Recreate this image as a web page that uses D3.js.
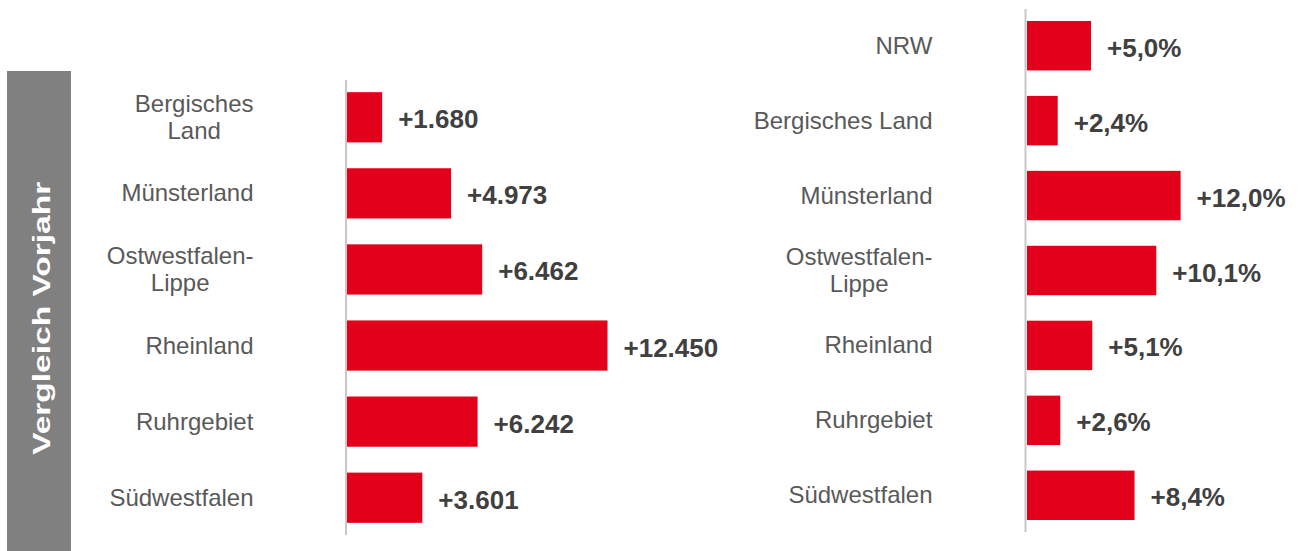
<!DOCTYPE html>
<html>
<head>
<meta charset="utf-8">
<script src="https://cdn.jsdelivr.net/npm/d3@7"></script>
<style>
  html, body { margin: 0; padding: 0; background: #ffffff; }
  svg { display: block; font-family: "Liberation Sans", Arial, sans-serif; }
</style>
</head>
<body>
<svg id="chart" width="1302" height="551"></svg>
<script>
// ---- data ----
const leftCategories = [["Bergisches", "Land"], ["Münsterland"], ["Ostwestfalen-", "Lippe"], ["Rheinland"], ["Ruhrgebiet"], ["Südwestfalen"]];
const leftValues = [1680, 4973, 6462, 12450, 6242, 3601];
const leftLabels = ["+1.680", "+4.973", "+6.462", "+12.450", "+6.242", "+3.601"];

const rightCategories = [["NRW"], ["Bergisches Land"], ["Münsterland"], ["Ostwestfalen-", "Lippe"], ["Rheinland"], ["Ruhrgebiet"], ["Südwestfalen"]];
const rightValues = [5.0, 2.4, 12.0, 10.1, 5.1, 2.6, 8.4];
const rightLabels = ["+5,0%", "+2,4%", "+12,0%", "+10,1%", "+5,1%", "+2,6%", "+8,4%"];

const sideTitle = "Vergleich Vorjahr";

// ---- styles ----
const RED = "#E2001A";
const TEXT = "#595959";
const VALUE = "#404040";
const AXIS = "#c8c8c8";
const BAND = "#808080";

const svg = d3.select("#chart");

// side band
svg.append("rect").attr("x", 7).attr("y", 71).attr("width", 64).attr("height", 480).attr("fill", BAND);
svg.append("text")
  .attr("transform", "translate(50,318.3) rotate(-90)")
  .attr("text-anchor", "middle")
  .attr("fill", "#ffffff")
  .attr("font-weight", "bold")
  .attr("font-size", 24)
  .attr("textLength", 273)
  .attr("lengthAdjust", "spacingAndGlyphs")
  .text(sideTitle);

function panel(opts) {
  const { cats, vals, labels, x0, axisX, yRange, xMax, xWidth, labelRight } = opts;
  const idx = d3.range(vals.length);
  const y = d3.scaleBand().domain(idx).range(yRange).paddingInner(0.34).paddingOuter(0.16);
  const x = d3.scaleLinear().domain([0, xMax]).range([x0, x0 + xWidth]);

  const g = svg.append("g");

  g.selectAll("rect.bar").data(idx).join("rect")
    .attr("class", "bar")
    .attr("x", x(0))
    .attr("y", i => y(i))
    .attr("width", i => x(vals[i]) - x(0))
    .attr("height", y.bandwidth())
    .attr("fill", RED);

  // axis line
  g.append("line")
    .attr("x1", axisX).attr("x2", axisX)
    .attr("y1", yRange[0]).attr("y2", yRange[1])
    .attr("stroke", AXIS).attr("stroke-width", 2);

  // value labels
  g.selectAll("text.val").data(idx).join("text")
    .attr("class", "val")
    .attr("x", i => x(vals[i]) + 16)
    .attr("y", i => y(i) + y.bandwidth() / 2 + 11)
    .attr("fill", VALUE)
    .attr("font-weight", "bold")
    .attr("font-size", 26)
    .text(i => labels[i]);

  // category labels
  const lh = 27;
  idx.forEach(i => {
    const lines = cats[i];
    const cy = y(i) + y.bandwidth() / 2;
    const lg = g.append("g");
    const t = lg.append("text")
      .attr("text-anchor", "middle")
      .attr("fill", TEXT)
      .attr("font-size", 24);
    lines.forEach((ln, k) => {
      t.append("tspan").attr("x", 0)
        .attr("y", cy - (lines.length - 1) * lh / 2 + k * lh + 8)
        .text(ln);
    });
    const w = t.node().getBBox().width;
    lg.attr("transform", `translate(${labelRight - w / 2},0)`);
  });
}

panel({
  cats: leftCategories, vals: leftValues, labels: leftLabels,
  x0: 347, axisX: 346, yRange: [80, 535],
  xMax: d3.max(leftValues), xWidth: 260.5, labelRight: 253.5
});

panel({
  cats: rightCategories, vals: rightValues, labels: rightLabels,
  x0: 1027, axisX: 1025.5, yRange: [9, 532],
  xMax: d3.max(rightValues), xWidth: 153.6, labelRight: 932.5
});
</script>
</body>
</html>
